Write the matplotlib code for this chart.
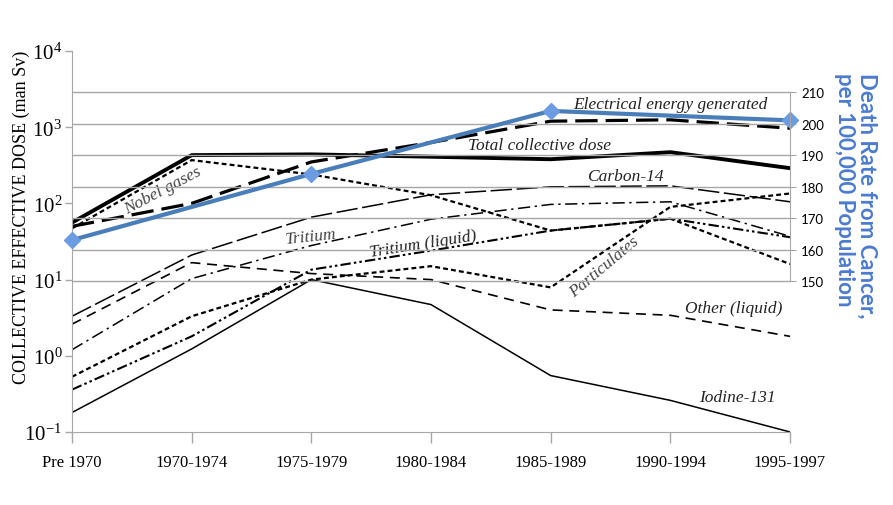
import matplotlib
matplotlib.use('Agg')
import matplotlib.pyplot as plt
from matplotlib.ticker import FixedLocator, FixedFormatter, NullLocator

plt.rcParams['font.family'] = ['Liberation Serif', 'DejaVu Serif']
plt.rcParams['mathtext.default'] = 'regular'

# data (man Sv)
periods = ['Pre 1970', '1970-1974', '1975-1979', '1980-1984', '1985-1989', '1990-1994', '1995-1997']
total_dose = [56, 430, 440, 410, 380, 470, 290]
electrical = [50, 100, 350, 630, 1200, 1250, 970]
nobel_gases = [47, 370, 240, 128, 44, 63, 16]
carbon14 = [3.3, 21, 66, 130, 165, 170, 105]
tritium = [1.2, 10.3, 28, 62, 97, 105, 37]
tritium_liquid = [0.36, 1.8, 13.5, 24, 44, 63, 36]
particulates = [0.53, 3.3, 10, 15, 7.9, 90, 135]
other_liquid = [2.6, 16.7, 12, 10, 4.0, 3.4, 1.8]
iodine131 = [0.18, 1.23, 10, 4.7, 0.55, 0.26, 0.1]

# death rate from cancer per 100,000 (right axis)
cancer_periods = ['Pre 1970', '1975-1979', '1985-1989', '1995-1997']
cancer_rate = [163, 184, 204, 201]

gray = '#a6a6a6'
blue = '#4a7ebb'

fig = plt.figure(figsize=(8.93, 5.06), dpi=100)
ax = fig.add_axes([0.0806, 0.1443, 0.8041, 0.7529])
x = list(range(len(periods)))

ax.plot(x, iodine131, color='black', lw=1.1)
ax.plot(x, other_liquid, color='black', lw=1.2, dashes=(6, 4))
ax.plot(x, particulates, color='black', lw=1.6, dashes=(2.2, 1.4))
ax.plot(x, tritium_liquid, color='black', lw=1.5, dashes=(5, 1.5, 1.2, 1.5, 1.2, 1.5))
ax.plot(x, tritium, color='black', lw=1.1, dashes=(8, 3, 1.5, 3))
ax.plot(x, carbon14, color='black', lw=1.1, dashes=(14, 3))
ax.plot(x, nobel_gases, color='black', lw=1.6, dashes=(2.2, 1.4))
ax.plot(x, electrical, color='black', lw=2.3, dashes=(7, 2.5))
ax.plot(x, total_dose, color='black', lw=2.8)

ax.set_yscale('log')
ax.set_ylim(0.1, 1e4)
ax.set_xlim(0, 6)
decades = [0.1, 1, 10, 100, 1000, 10000]
ax.yaxis.set_major_locator(FixedLocator(decades))
ax.yaxis.set_major_formatter(FixedFormatter([r'$10^{-1}$', r'$10^{0}$', r'$10^{1}$',
                                             r'$10^{2}$', r'$10^{3}$', r'$10^{4}$']))
ax.yaxis.set_minor_locator(NullLocator())
ax.set_xticks(x)
ax.set_xticklabels(periods, fontsize=12)
ax.tick_params(axis='y', labelsize=15, color=gray, length=5, width=1, pad=2)
ax.tick_params(axis='x', color=gray, length=8, width=1, pad=8)
for s in ['top', 'right']:
    ax.spines[s].set_visible(False)
for s in ['left', 'bottom']:
    ax.spines[s].set_color(gray)
ax.set_ylabel('COLLECTIVE EFFECTIVE DOSE (man Sv)', fontsize=13)
ax.yaxis.set_label_coords(-0.058, 0.565)

# series labels
lab = dict(style='italic', fontsize=12.5, color='#222222', ha='center', va='center')
ax.text(5.0, 2000, 'Electrical energy generated', **lab)
ax.text(3.91, 590, 'Total collective dose', **lab)
ax.text(4.62, 230, 'Carbon-14', **lab)
ax.text(0.76, 150, 'Nobel gases', rotation=28, **dict(lab, color='#444444'))
ax.text(2.0, 37, 'Tritium', rotation=6, **dict(lab, color='#444444'))
ax.text(2.93, 30, 'Tritium (liquid)', rotation=9, **lab)
ax.text(4.45, 15, 'Particulates', rotation=40, **dict(lab, color='#444444'))
ax.text(5.53, 4.2, 'Other (liquid)', **lab)
ax.text(5.56, 0.29, 'Iodine-131', **lab)

# right axis only covers part of the plot height
ax2 = ax.twinx()
ax2.set_ylim(102.07, 223.02)
ax2.set_yticks([150, 160, 170, 180, 190, 200, 210])
ax2.grid(axis='y', color=gray, lw=1)
ax2.tick_params(axis='y', color=gray, length=4, labelsize=9.5, pad=4)
for lbl in ax2.get_yticklabels():
    lbl.set_family(['Lato', 'DejaVu Sans'])
for s in ['top', 'left', 'bottom']:
    ax2.spines[s].set_visible(False)
ax2.spines['right'].set_color(gray)
ax2.spines['right'].set_bounds(150, 210)
cx = [periods.index(p) for p in cancer_periods]
ax2.plot(cx, cancer_rate, color=blue, lw=3, marker='D', markersize=8,
         markerfacecolor='#6b9be0', markeredgecolor='#6b9be0', clip_on=False)

fig.text(0.958, 0.613, 'Death Rate from Cancer,\nper 100,000 Population', rotation=-90,
         ha='center', va='center', fontsize=16, fontweight='bold', color='#4a7bd0',
         family=['Lato', 'DejaVu Sans'], linespacing=1.05, multialignment='left')

fig.savefig('out.png', dpi=100)
